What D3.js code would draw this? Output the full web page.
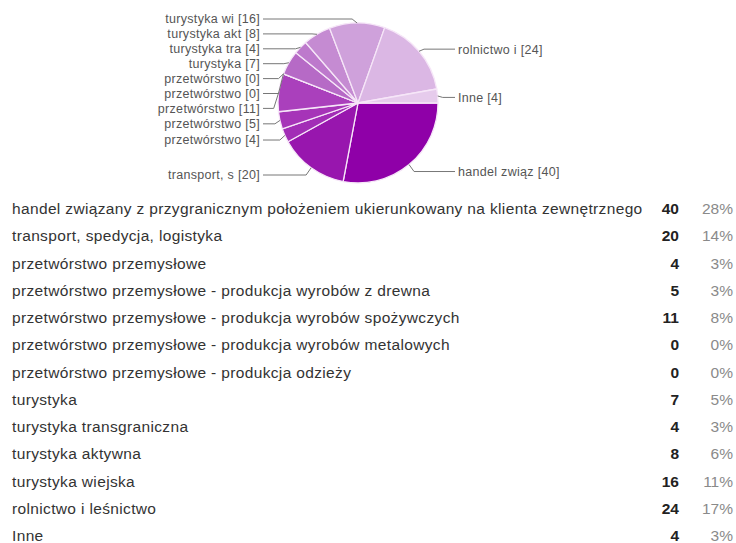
<!DOCTYPE html>
<html>
<head>
<meta charset="utf-8">
<script src="https://cdn.jsdelivr.net/npm/d3@7"></script>
<style>
  html, body { margin: 0; padding: 0; background: #fff; }
  svg { display: block; font-family: "Liberation Sans", Arial, sans-serif; }
</style>
</head>
<body>
<svg id="chart" width="736" height="543"></svg>
<script>
// ---- data ----
const categories = [
  "handel związany z przygranicznym położeniem ukierunkowany na klienta zewnętrznego",
  "transport, spedycja, logistyka",
  "przetwórstwo przemysłowe",
  "przetwórstwo przemysłowe - produkcja wyrobów z drewna",
  "przetwórstwo przemysłowe - produkcja wyrobów spożywczych",
  "przetwórstwo przemysłowe - produkcja wyrobów metalowych",
  "przetwórstwo przemysłowe - produkcja odzieży",
  "turystyka",
  "turystyka transgraniczna",
  "turystyka aktywna",
  "turystyka wiejska",
  "rolnictwo i leśnictwo",
  "Inne"
];
const shortLabels = [
  "handel związ", "transport, s", "przetwórstwo ", "przetwórstwo ", "przetwórstwo",
  "przetwórstwo ", "przetwórstwo ", "turystyka", "turystyka tra", "turystyka akt",
  "turystyka wi", "rolnictwo i ", "Inne"
];
const counts = [40, 20, 4, 5, 11, 0, 0, 7, 4, 8, 16, 24, 4];
const percents = ["28%", "14%", "3%", "3%", "8%", "0%", "0%", "5%", "3%", "6%", "11%", "17%", "3%"];
const sliceColors = [
  "#8f00a8", "#9816ae", "#a22db6", "#a634b8", "#aa40bc", "#ae4cbf", "#b055c1",
  "#b66ac6", "#bd79cc", "#c58bd2", "#cfa1db", "#dbb7e4", "#e6cbec"
];

// ---- layout ----
const svg = d3.select("#chart");
const cx = 358, cy = 103, R = 80;

const pie = d3.pie().sort(null).value(d => d)
  .startAngle(Math.PI / 2).endAngle(Math.PI / 2 + 2 * Math.PI);
const arcs = pie(counts);
const arcGen = d3.arc().innerRadius(0).outerRadius(R);

const g = svg.append("g").attr("transform", `translate(${cx},${cy})`);
g.selectAll("path.slice").data(arcs).join("path")
  .attr("class", "slice")
  .attr("d", arcGen)
  .attr("fill", (d, i) => sliceColors[i])
  .attr("stroke", "#f6e6f8")
  .attr("stroke-width", 1.3)
  .attr("stroke-linejoin", "round");

// ---- pie labels ----
const items = arcs.map((a, i) => {
  const mid = (a.startAngle + a.endAngle) / 2;
  const px = Math.sin(mid) * R, py = -Math.cos(mid) * R;
  return { i, mid, px: cx + px, py: cy + py, want: cy + py * 1.08 + 2,
           side: Math.sin(mid) < 0 ? "L" : "R",
           text: shortLabels[i] + " [" + counts[i] + "]" };
});

function spread(list, gap, top) {
  list.sort((a, b) => a.want - b.want);
  list.forEach(d => d.ly = d.want);
  for (let it = 0; it < 400; it++) {
    let moved = false;
    for (let k = 1; k < list.length; k++) {
      const ov = gap - (list[k].ly - list[k - 1].ly);
      if (ov > 0.01) { list[k].ly += ov / 2; list[k - 1].ly -= ov / 2; moved = true; }
    }
    if (!moved) break;
  }
  list[0].ly = Math.max(list[0].ly, top);
  for (let k = 1; k < list.length; k++) list[k].ly = Math.max(list[k].ly, list[k - 1].ly + gap);
  return list;
}
const left = spread(items.filter(d => d.side === "L"), 14.9, 19);
const right = spread(items.filter(d => d.side === "R"), 14.9, 19);

const labelG = svg.append("g").attr("font-size", 12.5).attr("letter-spacing", 0.3).attr("fill", "#555");
const lineG = svg.append("g").attr("fill", "none").attr("stroke", "#777").attr("stroke-width", 1);

const leftEnd = 260, rightStart = 458;
left.forEach(d => {
  labelG.append("text").attr("x", leftEnd).attr("y", d.ly).attr("dy", "0.35em")
    .attr("text-anchor", "end").text(d.text);
  const ex = Math.max(leftEnd + 4, d.px - 5);
  lineG.append("path").attr("d", `M${leftEnd + 3},${d.ly}H${ex}L${d.px},${d.py}`);
});
right.forEach(d => {
  labelG.append("text").attr("x", rightStart).attr("y", d.ly).attr("dy", "0.35em")
    .attr("text-anchor", "start").text(d.text);
  const ex = Math.min(rightStart - 4, d.px + 5);
  lineG.append("path").attr("d", `M${rightStart - 3},${d.ly}H${ex}L${d.px},${d.py}`);
});

// ---- table ----
const rowY = d3.scalePoint().domain(d3.range(categories.length)).range([214, 541]);
const tbl = svg.append("g").attr("font-size", 15.5);
tbl.selectAll("text.cat").data(categories).join("text")
  .attr("class", "cat").attr("x", 12).attr("y", (d, i) => rowY(i))
  .attr("letter-spacing", 0.35)
  .attr("fill", "#333").text(d => d);
tbl.selectAll("text.cnt").data(counts).join("text")
  .attr("class", "cnt").attr("x", 679).attr("y", (d, i) => rowY(i))
  .attr("text-anchor", "end").attr("font-weight", "bold").attr("fill", "#222").text(d => d);
tbl.selectAll("text.pct").data(percents).join("text")
  .attr("class", "pct").attr("x", 733).attr("y", (d, i) => rowY(i))
  .attr("text-anchor", "end").attr("fill", "#8a8a8a").text(d => d);
</script>
</body>
</html>
